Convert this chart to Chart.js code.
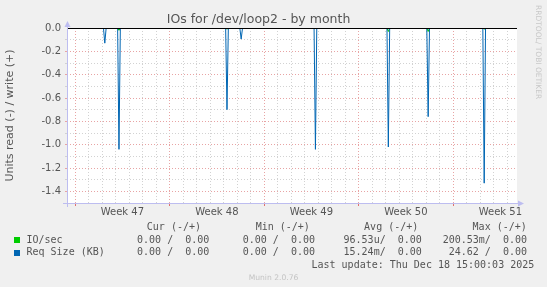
<!DOCTYPE html>
<html>
<head>
<meta charset="utf-8">
<script src="https://cdn.jsdelivr.net/npm/chart.js@4.4.1/dist/chart.umd.min.js"></script>
<style>
  body { margin: 0; background: #f0f0f0; }
  #wrap { position: relative; width: 547px; height: 287px; overflow: hidden; }
  .txt { position: absolute; font: 10px "DejaVu Sans Mono", monospace; color: #555; white-space: pre; line-height: 12px; }
  .r { text-align: right; }
  .sq { position: absolute; width: 6px; height: 6px; }
</style>
</head>
<body>
<div id="wrap">
  <canvas id="chart" width="547" height="287"></canvas>

  <div class="txt" style="left:146.8px;top:221px">Cur (-/+)</div>
  <div class="txt" style="left:255.7px;top:221px">Min (-/+)</div>
  <div class="txt" style="left:364.1px;top:221px">Avg (-/+)</div>
  <div class="txt" style="left:472.6px;top:221px">Max (-/+)</div>

  <div class="sq" style="left:14px;top:237px;background:#00cc00"></div>
  <div class="txt" style="left:26.5px;top:233.7px">IO/sec</div>
  <div class="txt r" style="right:337.7px;top:233.7px">0.00 /  0.00</div>
  <div class="txt r" style="right:232px;top:233.7px">0.00 /  0.00</div>
  <div class="txt r" style="right:125.2px;top:233.7px">96.53u/  0.00</div>
  <div class="txt r" style="right:20px;top:233.7px">200.53m/  0.00</div>

  <div class="sq" style="left:14px;top:249.5px;background:#0066b3"></div>
  <div class="txt" style="left:26.5px;top:246.2px">Req Size (KB)</div>
  <div class="txt r" style="right:337.7px;top:246.2px">0.00 /  0.00</div>
  <div class="txt r" style="right:232px;top:246.2px">0.00 /  0.00</div>
  <div class="txt r" style="right:125.2px;top:246.2px">15.24m/  0.00</div>
  <div class="txt r" style="right:20px;top:246.2px">24.62 /  0.00</div>

  <div class="txt" style="left:311.5px;top:259.2px">Last update: Thu Dec 18 15:00:03 2025</div>
  <div class="txt" style="left:0;width:547px;text-align:center;top:273px;font:7.6px 'DejaVu Sans';line-height:10px;color:#c4c4c4">Munin 2.0.76</div>
  <div class="txt" style="left:533px;top:5px;writing-mode:vertical-rl;font:7.5px 'DejaVu Sans';line-height:10px;color:#c8c8c8">RRDTOOL/ TOBI OETIKER</div>
</div>
<script>
// Tanggal spike (hari sejak awal grafik) dan nilai read (negatif)
const spikeDays = [2.8, 3.85, 11.85, 12.9, 18.4, 23.8, 26.75, 30.9];
const reqSizeRead = [-0.13, -1.04, -0.70, -0.095, -1.04, -1.02, -0.76, -1.33];
const ioSecRead = [0, -0.02, -0.01, 0, 0, -0.03, -0.03, -0.01];

const weekLabels = ['Week 47', 'Week 48', 'Week 49', 'Week 50', 'Week 51'];
const weekStart = 0.6;   // Senin minggu 47, dalam hari
const endDay = 33.33;

const yMin = -1.5;
const yStep = 0.1;

const majorGrid = '#e8a4a4';
const minorGrid = '#d2d2d2';
const axisColor = '#bdbdf0';

function toPoints(vals) {
    const pts = [{ x: 0, y: 0 }];
    spikeDays.forEach((d, i) => {
        pts.push({ x: d - 0.1, y: 0 }, { x: d, y: vals[i] }, { x: d + 0.1, y: 0 });
    });
    pts.push({ x: endDay, y: 0 });
    return pts;
}

function xKind(v) {
    const r = (((v - weekStart) % 7) + 7) % 7;
    if (Math.abs(r - 3.5) < 0.01) return 'label';
    if (r < 0.01 || r > 6.99) return 'major';
    return 'minor';
}

function yKind(v) {
    const n = Math.round(v * 10);
    if (n === 0) return 'zero';
    if (n === -15) return 'none';
    return n % 2 === 0 ? 'major' : 'minor';
}

// Latar putih area plot, garis nol hitam, garis sumbu dengan panah
const frame = {
    id: 'frame',
    beforeDraw(chart) {
        const { ctx, chartArea: a } = chart;
        ctx.save();
        ctx.fillStyle = '#ffffff';
        ctx.fillRect(a.left, a.top, a.right - a.left, a.bottom - a.top);
        ctx.restore();
    },
    afterDatasetsDraw(chart) {
        const { ctx, chartArea: a } = chart;
        const x0 = Math.round(a.left) + 0.5;
        const y0 = Math.round(a.bottom) + 0.5;
        const yz = Math.round(chart.scales.y.getPixelForValue(0)) + 0.5;
        ctx.save();
        ctx.lineWidth = 1;
        ctx.strokeStyle = '#000000';
        ctx.beginPath();
        ctx.moveTo(a.left, yz);
        ctx.lineTo(a.right, yz);
        ctx.stroke();

        ctx.strokeStyle = axisColor;
        ctx.fillStyle = axisColor;
        ctx.beginPath();
        ctx.moveTo(x0, a.bottom + 4);
        ctx.lineTo(x0, a.top - 2);
        ctx.moveTo(a.left - 4, y0);
        ctx.lineTo(a.right + 2, y0);
        ctx.stroke();
        ctx.beginPath();
        ctx.moveTo(x0, a.top - 7);
        ctx.lineTo(x0 - 3, a.top - 1);
        ctx.lineTo(x0 + 3, a.top - 1);
        ctx.closePath();
        ctx.fill();
        ctx.beginPath();
        ctx.moveTo(a.right + 7, y0);
        ctx.lineTo(a.right + 1, y0 - 3);
        ctx.lineTo(a.right + 1, y0 + 3);
        ctx.closePath();
        ctx.fill();
        ctx.restore();
    }
};

Chart.defaults.font.family = '"DejaVu Sans", sans-serif';
Chart.defaults.color = '#555';

const ioChart = new Chart(
    document.getElementById('chart'),
    {
        type: 'line',
        data: {
            datasets: [{
                label: 'IO/sec',
                data: toPoints(ioSecRead),
                borderColor: '#00cc00',
                borderWidth: 1,
                pointRadius: 0,
                fill: false,
                order: 2
            }, {
                label: 'Req Size (KB)',
                data: toPoints(reqSizeRead),
                borderColor: '#0066b3',
                borderWidth: 1,
                pointRadius: 0,
                fill: false,
                order: 1
            }]
        },
        options: {
            responsive: false,
            animation: false,
            devicePixelRatio: 1,
            layout: { padding: { left: 0, right: 30, top: 0, bottom: 64 } },
            plugins: {
                legend: { display: false },
                tooltip: { enabled: false },
                title: {
                    display: true,
                    text: 'IOs for /dev/loop2 - by month',
                    color: '#555',
                    font: { size: 12.5, weight: 'normal' },
                    padding: { top: 12, bottom: 1 }
                }
            },
            scales: {
                x: {
                    type: 'linear',
                    min: 0,
                    max: endDay,
                    afterBuildTicks: (axis) => {
                        const t = [];
                        for (let d = weekStart; d <= endDay; d += 1) t.push({ value: +d.toFixed(2) });
                        weekLabels.forEach((w, i) => t.push({ value: weekStart + 3.5 + 7 * i }));
                        t.sort((a, b) => a.value - b.value);
                        axis.ticks = t;
                    },
                    afterFit: (axis) => { axis.height = 20; },
                    ticks: {
                        autoSkip: false,
                        maxRotation: 0,
                        minRotation: 0,
                        padding: 0,
                        font: { size: 10 },
                        color: '#555',
                        callback: (v) => xKind(v) === 'label'
                            ? weekLabels[Math.round((v - weekStart - 3.5) / 7)] : ''
                    },
                    grid: {
                        color: (c) => {
                            const k = xKind(c.tick.value);
                            return k === 'major' ? majorGrid : k === 'minor' ? minorGrid : 'transparent';
                        },
                        tickColor: (c) => xKind(c.tick.value) === 'major' ? '#e07070' : 'transparent',
                        tickLength: 3,
                        tickBorderDash: []
                    },
                    border: { display: false, dash: [1, 2] }
                },
                y: {
                    min: yMin,
                    max: 0,
                    afterBuildTicks: (axis) => {
                        const t = [];
                        for (let n = 0; n <= 15; n++) t.push({ value: +(yMin + n * yStep).toFixed(1) });
                        axis.ticks = t;
                    },
                    afterFit: (axis) => { axis.width = 67; },
                    title: {
                        display: true,
                        text: 'Units read (-) / write (+)',
                        color: '#555',
                        font: { size: 11 },
                        padding: { top: 4, bottom: 0 }
                    },
                    ticks: {
                        autoSkip: false,
                        padding: 4,
                        font: { size: 10 },
                        color: '#555',
                        callback: (v) => {
                            const k = yKind(v);
                            return (k === 'major' || k === 'zero') ? Math.abs(v) < 1e-9 ? '0.0' : v.toFixed(1) : '';
                        }
                    },
                    grid: {
                        color: (c) => {
                            const k = yKind(c.tick.value);
                            return k === 'major' ? majorGrid : k === 'minor' ? minorGrid : 'transparent';
                        },
                        tickColor: (c) => {
                            const k = yKind(c.tick.value);
                            return k === 'major' ? majorGrid : k === 'minor' ? minorGrid : 'transparent';
                        },
                        tickLength: 2
                    },
                    border: { display: false, dash: [1, 2] }
                }
            }
        },
        plugins: [frame]
    }
);
</script>
</body>
</html>
